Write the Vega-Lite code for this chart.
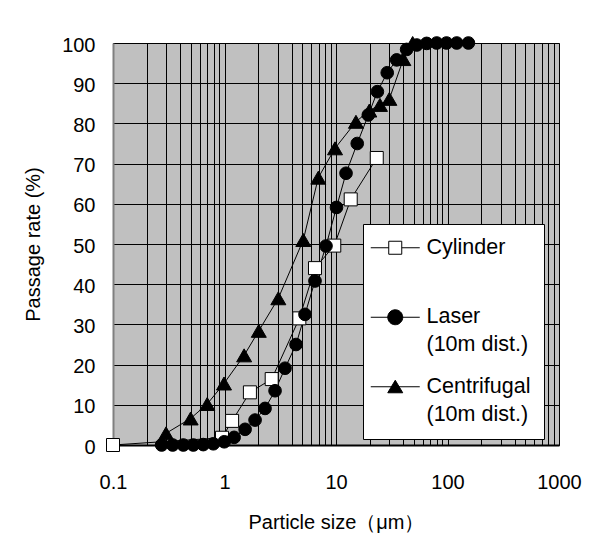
{
  "$schema": "https://vega.github.io/schema/vega-lite/v6.json",
  "width": 446,
  "height": 402,
  "autosize": "none",
  "padding": {"left": 113, "top": 43, "right": 37, "bottom": 96},
  "background": "white",
  "config": {
    "view": {"fill": "#c0c0c0", "stroke": "#808080", "strokeWidth": 1},
    "font": "Liberation Sans",
    "style": {"guide-label": {"lineHeight": 28}},
    "axis": {
      "labelFont": "Liberation Sans", "labelFontSize": 20, "labelColor": "black",
      "titleFont": "Liberation Sans", "titleFontSize": 20, "titleColor": "black", "titleFontWeight": "normal",
      "gridColor": "black", "gridOpacity": 1, "gridWidth": 1, "ticks": false
    },
    "legend": {
      "orient": "none", "legendX": 250, "legendY": 181,
      "fillColor": "white", "strokeColor": "black",
      "padding": 13, "symbolOffset": 8.5, "labelOffset": 20.5, "rowPadding": 18.5,
      "symbolSize": 196, "symbolOpacity": 1, "symbolStrokeWidth": 1,
      "labelFont": "Liberation Sans", "labelFontSize": 21.5, "labelColor": "black", "labelLimit": 0
    }
  },
  "data": {
    "values": [
      {"series": "Cylinder", "size": 0.1, "rate": 0},
      {"series": "Cylinder", "size": 0.95, "rate": 1.8},
      {"series": "Cylinder", "size": 1.17, "rate": 6},
      {"series": "Cylinder", "size": 1.69, "rate": 13.1},
      {"series": "Cylinder", "size": 2.65, "rate": 16.4},
      {"series": "Cylinder", "size": 4.69, "rate": 31.5},
      {"series": "Cylinder", "size": 6.48, "rate": 44},
      {"series": "Cylinder", "size": 9.65, "rate": 49.6},
      {"series": "Cylinder", "size": 13.55, "rate": 61.1},
      {"series": "Cylinder", "size": 23.2, "rate": 71.4},
      {"series": "Centrifugal (10m dist.)", "size": 0.299, "rate": 2.9},
      {"series": "Centrifugal (10m dist.)", "size": 0.497, "rate": 6.6},
      {"series": "Centrifugal (10m dist.)", "size": 0.70, "rate": 10.2},
      {"series": "Centrifugal (10m dist.)", "size": 0.99, "rate": 15.3},
      {"series": "Centrifugal (10m dist.)", "size": 1.5, "rate": 22.3},
      {"series": "Centrifugal (10m dist.)", "size": 2.03, "rate": 28.4},
      {"series": "Centrifugal (10m dist.)", "size": 3.04, "rate": 36.5},
      {"series": "Centrifugal (10m dist.)", "size": 5.09, "rate": 51.0},
      {"series": "Centrifugal (10m dist.)", "size": 6.94, "rate": 66.5},
      {"series": "Centrifugal (10m dist.)", "size": 9.8, "rate": 73.8},
      {"series": "Centrifugal (10m dist.)", "size": 15.1, "rate": 80.4},
      {"series": "Centrifugal (10m dist.)", "size": 19.9, "rate": 83.2},
      {"series": "Centrifugal (10m dist.)", "size": 24.8, "rate": 84.6},
      {"series": "Centrifugal (10m dist.)", "size": 30.1, "rate": 86.1},
      {"series": "Centrifugal (10m dist.)", "size": 40.2, "rate": 96},
      {"series": "Centrifugal (10m dist.)", "size": 48.7, "rate": 100},
      {"series": "Laser (10m dist.)", "size": 0.273, "rate": 0},
      {"series": "Laser (10m dist.)", "size": 0.343, "rate": 0},
      {"series": "Laser (10m dist.)", "size": 0.427, "rate": 0},
      {"series": "Laser (10m dist.)", "size": 0.525, "rate": 0},
      {"series": "Laser (10m dist.)", "size": 0.645, "rate": 0.1},
      {"series": "Laser (10m dist.)", "size": 0.794, "rate": 0.3},
      {"series": "Laser (10m dist.)", "size": 0.995, "rate": 0.8},
      {"series": "Laser (10m dist.)", "size": 1.22, "rate": 1.9},
      {"series": "Laser (10m dist.)", "size": 1.53, "rate": 3.9},
      {"series": "Laser (10m dist.)", "size": 1.88, "rate": 6.2},
      {"series": "Laser (10m dist.)", "size": 2.31, "rate": 9.1},
      {"series": "Laser (10m dist.)", "size": 2.84, "rate": 13.5},
      {"series": "Laser (10m dist.)", "size": 3.49, "rate": 19.1},
      {"series": "Laser (10m dist.)", "size": 4.38, "rate": 25.0},
      {"series": "Laser (10m dist.)", "size": 5.27, "rate": 32.5},
      {"series": "Laser (10m dist.)", "size": 6.48, "rate": 40.8},
      {"series": "Laser (10m dist.)", "size": 8.13, "rate": 49.5},
      {"series": "Laser (10m dist.)", "size": 10.1, "rate": 59.1},
      {"series": "Laser (10m dist.)", "size": 12.3, "rate": 67.6},
      {"series": "Laser (10m dist.)", "size": 15.5, "rate": 75.0},
      {"series": "Laser (10m dist.)", "size": 19.5, "rate": 82.1},
      {"series": "Laser (10m dist.)", "size": 23.5, "rate": 87.9},
      {"series": "Laser (10m dist.)", "size": 28.8, "rate": 92.6},
      {"series": "Laser (10m dist.)", "size": 35.0, "rate": 95.8},
      {"series": "Laser (10m dist.)", "size": 43, "rate": 98.4},
      {"series": "Laser (10m dist.)", "size": 53, "rate": 99.5},
      {"series": "Laser (10m dist.)", "size": 65, "rate": 99.9},
      {"series": "Laser (10m dist.)", "size": 80, "rate": 100},
      {"series": "Laser (10m dist.)", "size": 98, "rate": 100},
      {"series": "Laser (10m dist.)", "size": 121, "rate": 100},
      {"series": "Laser (10m dist.)", "size": 154, "rate": 100}
    ]
  },
  "encoding": {
    "x": {
      "field": "size", "type": "quantitative",
      "scale": {"type": "log", "domain": [0.1, 1000], "nice": false},
      "axis": {
        "title": "Particle size（μm）",
        "values": [0.1, 0.2, 0.3, 0.4, 0.5, 0.6, 0.7, 0.8, 0.9, 1, 2, 3, 4, 5, 6, 7, 8, 9, 10, 20, 30, 40, 50, 60, 70, 80, 90, 100, 200, 300, 400, 500, 600, 700, 800, 900, 1000],
        "labelExpr": "indexof([0.1, 1, 10, 100, 1000], datum.value) >= 0 ? toString(datum.value) : ''",
        "labelOverlap": false, "labelFlush": false, "labelBound": false,
        "grid": true, "labelPadding": 27, "titlePadding": 20,
        "domainColor": "black", "domainWidth": 2
      }
    },
    "y": {
      "field": "rate", "type": "quantitative",
      "scale": {"domain": [0, 100], "nice": false},
      "axis": {
        "title": "Passage rate (%)",
        "values": [0, 10, 20, 30, 40, 50, 60, 70, 80, 90, 100],
        "grid": true, "labelPadding": 18, "titlePadding": 18,
        "labelOffset": 2,
        "domainColor": "#808080", "domainWidth": 2
      }
    }
  },
  "resolve": {"scale": {"shape": "independent", "fill": "independent", "stroke": "independent"}},
  "layer": [
    {
      "mark": {"type": "line", "color": "black", "strokeWidth": 1},
      "encoding": {
        "detail": {"field": "series"},
        "order": {"field": "size", "type": "quantitative"}
      }
    },
    {
      "mark": {"type": "point", "filled": true, "strokeWidth": 1, "opacity": 0},
      "encoding": {
        "shape": {
          "field": "series", "type": "nominal",
          "scale": {"domain": ["Cylinder", "Laser (10m dist.)", "Centrifugal (10m dist.)"], "range": [
            "M-3.5,0H-0.93M0.93,0H3.5M-0.93,-0.93H0.93V0.93H-0.93Z",
            "M-3.5,0H3.5M1.07,0C1.07,0.59,0.59,1.07,0,1.07C-0.59,1.07,-1.07,0.59,-1.07,0C-1.07,-0.59,-0.59,-1.07,0,-1.07C0.59,-1.07,1.07,-0.59,1.07,0Z",
            "M-3.5,0H3.5M0,-0.93L1.07,0.86L-1.07,0.86Z"
          ]},
          "legend": {
            "title": null,
            "labelExpr": "split(datum.label, ' (').length > 1 ? [split(datum.label, ' (')[0], '(' + split(datum.label, ' (')[1]] : [datum.label, '']"
          }
        },
        "fill": {
          "field": "series", "type": "nominal",
          "scale": {"domain": ["Cylinder", "Laser (10m dist.)", "Centrifugal (10m dist.)"], "range": ["white", "black", "black"]},
          "legend": {
            "title": null,
            "labelExpr": "split(datum.label, ' (').length > 1 ? [split(datum.label, ' (')[0], '(' + split(datum.label, ' (')[1]] : [datum.label, '']"
          }
        },
        "stroke": {
          "field": "series", "type": "nominal",
          "scale": {"domain": ["Cylinder", "Laser (10m dist.)", "Centrifugal (10m dist.)"], "range": ["black", "black", "black"]},
          "legend": {
            "title": null,
            "labelExpr": "split(datum.label, ' (').length > 1 ? [split(datum.label, ' (')[0], '(' + split(datum.label, ' (')[1]] : [datum.label, '']"
          }
        }
      }
    },
    {
      "mark": {"type": "point", "filled": true, "stroke": "black", "strokeWidth": 1, "opacity": 1},
      "encoding": {
        "shape": {
          "field": "series", "type": "nominal",
          "scale": {"domain": ["Cylinder", "Laser (10m dist.)", "Centrifugal (10m dist.)"], "range": ["square", "circle", "triangle-up"]},
          "legend": null
        },
        "fill": {
          "condition": {"test": "datum.series === 'Cylinder'", "value": "white"},
          "value": "black"
        },
        "size": {
          "condition": [
            {"test": "datum.series === 'Cylinder'", "value": 169},
            {"test": "datum.series === 'Laser (10m dist.)'", "value": 160}
          ],
          "value": 225
        }
      }
    }
  ]
}
